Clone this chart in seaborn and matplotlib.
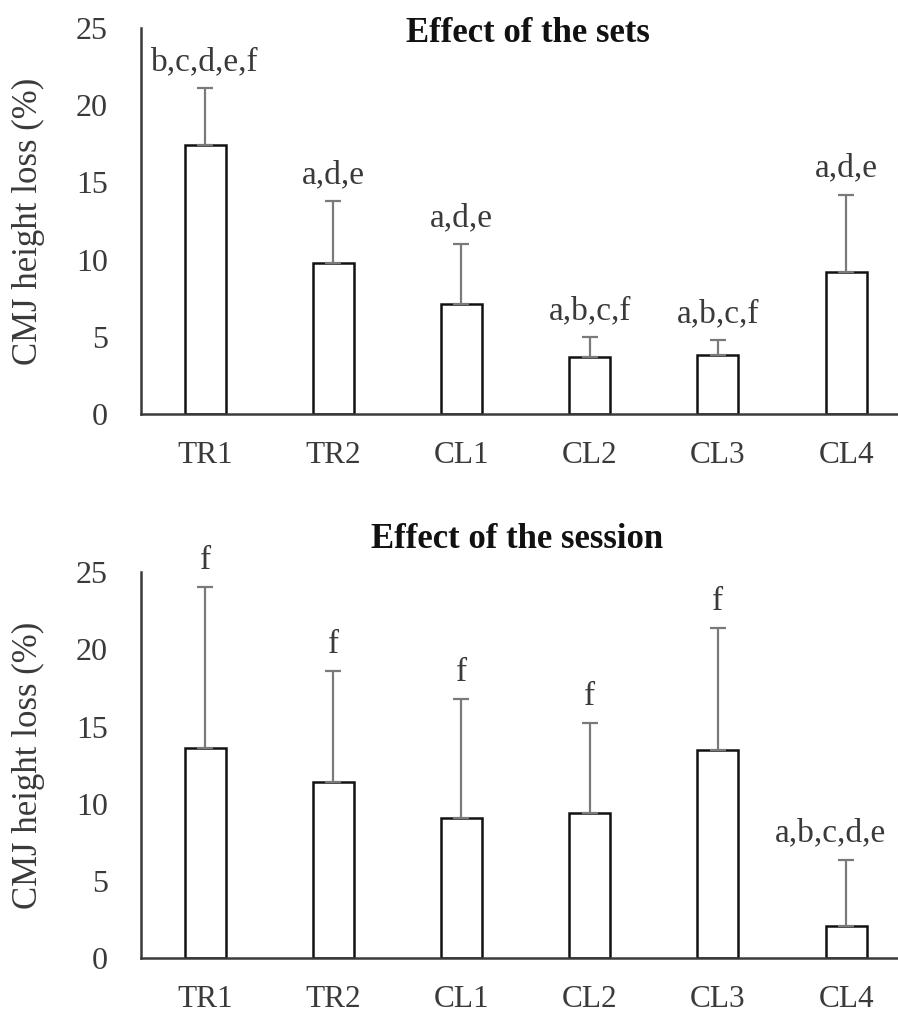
import matplotlib
matplotlib.use("Agg")
import matplotlib.pyplot as plt
import seaborn as sns
import numpy as np

# Session conditions (x axis)
categories = ["TR1", "TR2", "CL1", "CL2", "CL3", "CL4"]

# Effect of the sets: mean CMJ height loss (%) and SD
sets_mean = [17.4, 9.8, 7.1, 3.7, 3.8, 9.2]
sets_sd = [3.7, 4.0, 3.9, 1.3, 1.0, 5.0]
sets_labels = ["b,c,d,e,f", "a,d,e", "a,d,e", "a,b,c,f", "a,b,c,f", "a,d,e"]

# Effect of the session: mean CMJ height loss (%) and SD
session_mean = [13.6, 11.4, 9.1, 9.4, 13.5, 2.1]
session_sd = [10.4, 7.2, 7.7, 5.8, 7.9, 4.3]
session_labels = ["f", "f", "f", "f", "f", "a,b,c,d,e"]

y_ticks = [0, 5, 10, 15, 20, 25]
y_label = "CMJ height loss (%)"
titles = ["Effect of the sets", "Effect of the session"]

sns.set_style("white")
plt.rcParams["font.family"] = ["Liberation Serif", "DejaVu Serif"]

fig = plt.figure(figsize=(8.98, 10.15), dpi=100)
ax_top = fig.add_axes([0.157, 0.592, 0.843, 0.3805])
ax_bot = fig.add_axes([0.157, 0.0557, 0.843, 0.3808])

axis_color = "#3a3a3a"
text_color = "#3a3a3a"


def draw_panel(ax, means, sds, labels):
    sns.barplot(x=categories, y=means, ax=ax, color="white",
                edgecolor="#111111", linewidth=1.8, width=0.32,
                saturation=1, errorbar=None)
    xs = np.arange(len(categories))
    ax.errorbar(xs, means, yerr=[np.zeros(len(means)), sds], fmt="none",
                ecolor="#7a7a7a", elinewidth=1.6, capsize=6, capthick=1.6,
                zorder=1)
    for i, (m, s, lab) in enumerate(zip(means, sds, labels)):
        dx = 0
        if len(lab) > 6 and i == len(categories) - 1:
            dx = -11
        ax.annotate(lab, xy=(xs[i], m + s), xytext=(dx, 13),
                    textcoords="offset points", ha="center", va="baseline",
                    fontsize=24, color=text_color, annotation_clip=False)
    ax.set_ylim(0, 25)
    ax.set_xlim(-0.5, 5.405)
    ax.set_yticks(y_ticks)
    ax.set_yticklabels([str(t) for t in y_ticks])
    ax.tick_params(axis="y", length=0, labelsize=23, colors=text_color, pad=24)
    ax.tick_params(axis="x", length=0, labelsize=22.5, colors=text_color, pad=19)
    ax.set_ylabel(y_label, fontsize=25, color=text_color)
    ax.yaxis.set_label_coords(-0.127, 0.5)
    for side in ["top", "right"]:
        ax.spines[side].set_visible(False)
    for side in ["left", "bottom"]:
        ax.spines[side].set_color(axis_color)
        ax.spines[side].set_linewidth(1.8)
    ax.set_facecolor("white")


draw_panel(ax_top, sets_mean, sets_sd, sets_labels)
draw_panel(ax_bot, session_mean, session_sd, session_labels)

fig.text(528 / 898, 1 - 33 / 1015, titles[0], ha="center", va="center",
         fontsize=25, fontweight="bold", color="#111111")
fig.text(517 / 898, 1 - 540 / 1015, titles[1], ha="center", va="center",
         fontsize=25, fontweight="bold", color="#111111")

fig.savefig("out.png", dpi=100, facecolor="white")
